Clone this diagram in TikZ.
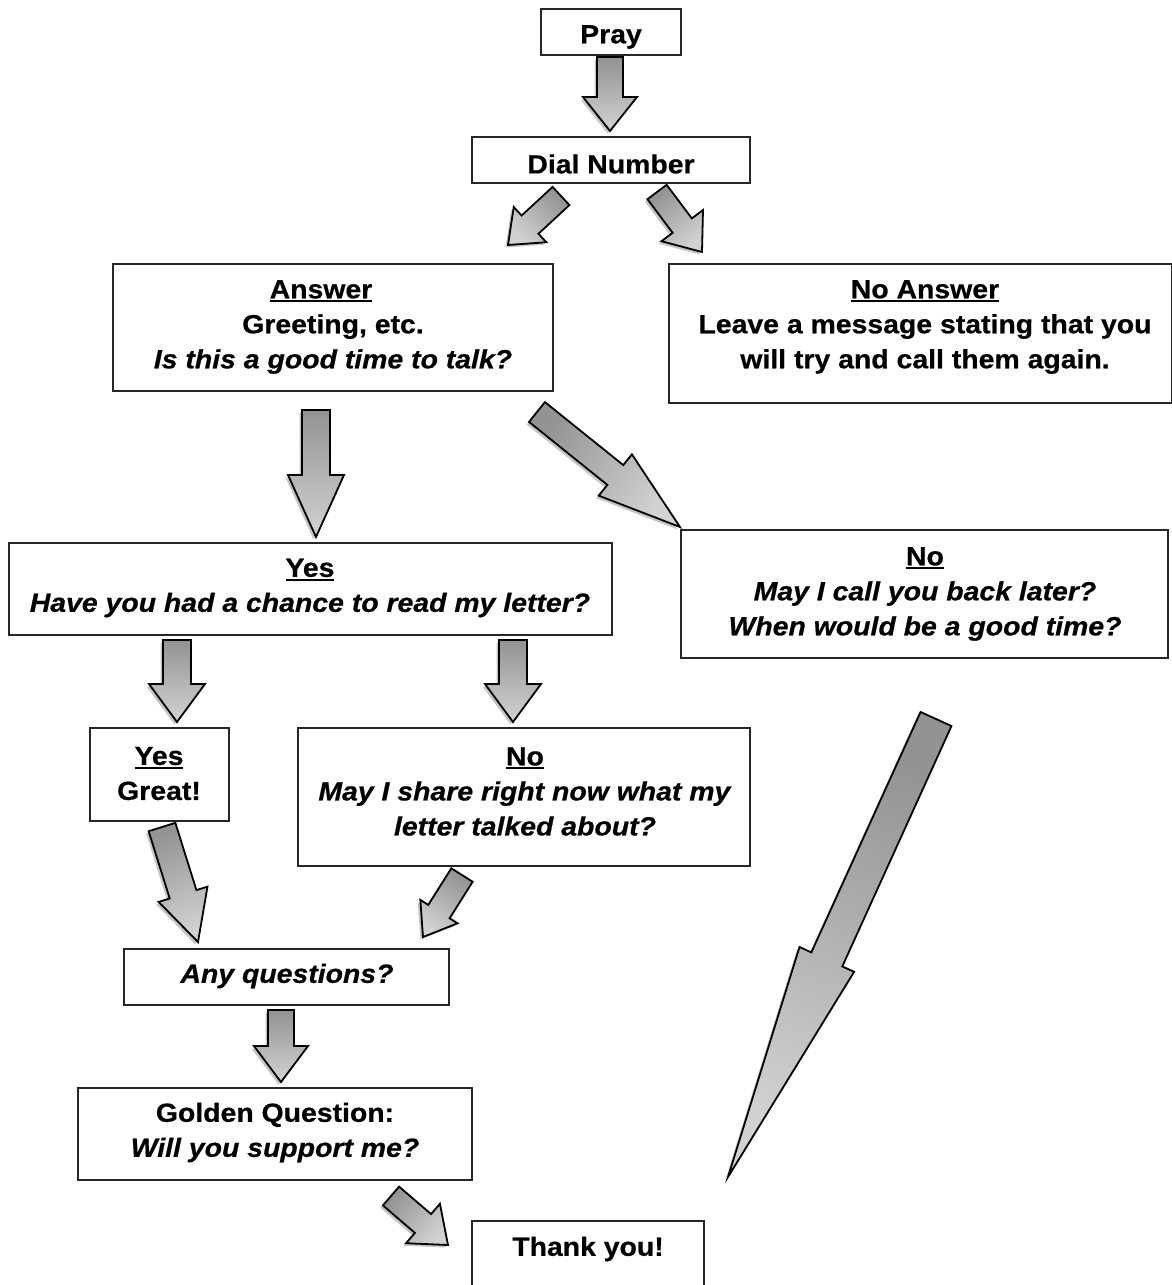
\documentclass[tikz,border=0pt]{standalone}
\usepackage{fontspec}
\setmainfont[FakeStretch=1.08,BoldFeatures={FakeBold=0.6},BoldItalicFeatures={FakeBold=0.6}]{Liberation Sans}
\usetikzlibrary{calc,shadows}
\newcommand\myul[1]{\setbox0\hbox{#1}\rlap{\rule[-3.8pt]{\wd0}{2pt}}\box0}
\newcommand\blockarrow[5]{%
  \path let \p1=($(#2)-(#1)$) in \pgfextra{\pgfmathsetmacro\arrang{atan2(\y1,\x1)+90}\global\let\arrang\arrang};
  \coordinate (hb) at ($(#2)!#5pt!(#1)$);
  \path[arrowbody, shading angle=\arrang]
    ($(#1)!#3pt!90:(#2)$) -- ($(hb)!#3pt!90:(#2)$) -- ($(hb)!#4pt!90:(#2)$) -- (#2)
    -- ($(hb)!#4pt!-90:(#2)$) -- ($(hb)!#3pt!-90:(#2)$) -- ($(#1)!#3pt!-90:(#2)$) -- cycle;
}
\begin{document}
\begin{tikzpicture}[x=1pt,y=-1pt,
  box/.style={draw=black!85, line width=1.8pt, fill=white},
  txt/.style={font=\fontsize{26.3}{35}\selectfont\bfseries, align=center, inner sep=0pt},
  arrowbody/.style={draw=black, line width=1.8pt, line join=miter,
    left color=gray!85, right color=gray!35,
    drop shadow={shadow xshift=-2.5pt, shadow yshift=-2.5pt, opacity=.45}}]
\useasboundingbox (0,0) rectangle (1172,1285);
\fill[white] (0,0) rectangle (1172,1285);

% boxes
\node[box, minimum width=140pt, minimum height=46pt] (pray) at (611,32) {};
\node[box, minimum width=278pt, minimum height=46pt] (dial) at (611,160) {};
\node[box, minimum width=440pt, minimum height=127pt] (answer) at (333,327.5) {};
\node[box, minimum width=503pt, minimum height=139pt] (noans) at (920.5,333.5) {};
\node[box, minimum width=603pt, minimum height=92pt] (yes) at (310.5,589) {};
\node[box, minimum width=487pt, minimum height=128pt] (no) at (924.5,594) {};
\node[box, minimum width=139pt, minimum height=93pt] (yesg) at (159.5,774.5) {};
\node[box, minimum width=452pt, minimum height=138pt] (noshare) at (524,797) {};
\node[box, minimum width=325pt, minimum height=56pt] (anyq) at (286.5,977) {};
\node[box, minimum width=394pt, minimum height=92pt] (golden) at (275,1134) {};
\node[box, minimum width=232pt, minimum height=90pt, anchor=north] (thank) at (588,1220) {};

% texts
\node[txt] (prayT) at (611,37) {Pray};
\node[txt] (dialT) at (611,164) {Dial Number};
\node[txt] (answerT) at (333,327) {\myul{Answer}\kern24pt\\ Greeting, etc.\\ \textit{Is this a good time to talk?}};
\node[txt] (noansT) at (925,327) {\myul{No Answer}\\ Leave a message stating that you\\ will try and call them again.};
\node[txt] (yesT) at (310,588) {\myul{Yes}\\ \textit{Have you had a chance to read my letter?}};
\node[txt] (noT) at (925,594) {\myul{No}\\ \textit{May I call you back later?}\\ \textit{When would be a good time?}};
\node[txt] (yesgT) at (159,773.5) {\myul{Yes}\\ Great!};
\node[txt] (noshareT) at (525,791.5) {\myul{No}\\ \textit{May I share right now what my}\\ \textit{letter talked about?}};
\node[txt] (anyqT) at (287,976) {\textit{Any questions?}};
\node[txt] (goldenT) at (275,1132.5) {Golden Question:\\ \textit{Will you support me?}};
\node[txt] (thankT) at (588,1249) {Thank you!};

% arrow end points
\coordinate (a1s) at (610,57);   \coordinate (a1e) at (610,131);
\coordinate (a2s) at (561,196);  \coordinate (a2e) at (508,245);
\coordinate (a3s) at (657,192);  \coordinate (a3e) at (702,252);
\coordinate (a4s) at (316,410);  \coordinate (a4e) at (316,537);
\coordinate (a5s) at (537,412);  \coordinate (a5e) at (680,527);
\coordinate (a6s) at (177,640);  \coordinate (a6e) at (177,722);
\coordinate (a7s) at (513,640);  \coordinate (a7e) at (513,722);
\coordinate (a8s) at (162,827);  \coordinate (a8e) at (198,942);
\coordinate (a9s) at (462,875);  \coordinate (a9e) at (423,937);
\coordinate (a10s) at (936,719); \coordinate (a10e) at (728,1177);
\coordinate (a11s) at (281,1010); \coordinate (a11e) at (281,1082);
\coordinate (a12s) at (391,1196); \coordinate (a12e) at (448,1245);

\blockarrow{a1s}{a1e}{13}{27}{34}
\blockarrow{a2s}{a2e}{12.4}{24}{30}
\blockarrow{a3s}{a3e}{12}{26}{33}
\blockarrow{a4s}{a4e}{14}{28}{62}
\blockarrow{a5s}{a5e}{12.7}{26.5}{83}
\blockarrow{a6s}{a6e}{14}{28}{38}
\blockarrow{a7s}{a7e}{14}{28}{38}
\blockarrow{a8s}{a8e}{14}{25.6}{50}
\blockarrow{a9s}{a9e}{12.6}{22}{30}
\blockarrow{a10s}{a10e}{17}{30}{239}
\blockarrow{a11s}{a11e}{13}{27}{36}
\blockarrow{a12s}{a12e}{12.4}{26}{33}
\end{tikzpicture}
\end{document}
